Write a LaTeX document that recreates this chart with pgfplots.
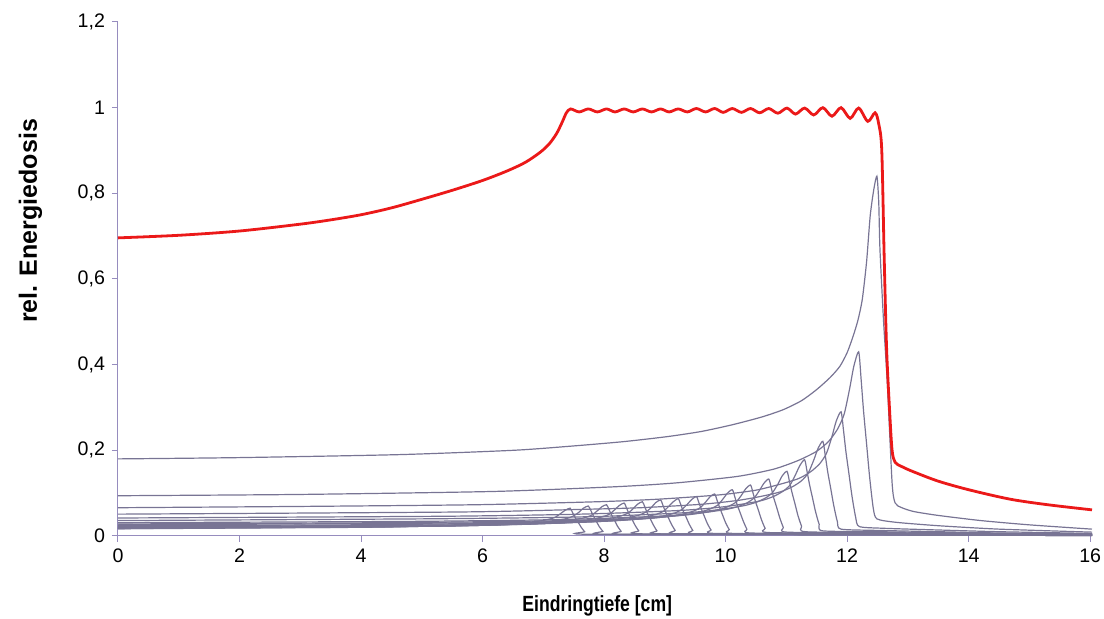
\documentclass[border=0pt]{standalone}
\usepackage{fontspec}
\setmainfont{Liberation Sans}
\usepackage{graphicx}
\usepackage{pgfplots}
\pgfplotsset{compat=1.18}
\definecolor{bragg}{RGB}{120,116,148}
\definecolor{axiscol}{RGB}{150,140,190}
\definecolor{sobp}{RGB}{235,25,25}
\begin{document}
\begin{tikzpicture}
\path[use as bounding box] (-59pt,-41.5pt) rectangle (493pt,268pt);
\begin{axis}[
 at={(0pt,0pt)}, anchor=south west,
 width=487pt, height=257pt, scale only axis,
 xmin=0, xmax=16.03, ymin=0, ymax=1.2,
 axis x line=bottom, axis y line=left,
 axis line style={-, draw=axiscol, line width=0.5pt},
 xtick={0,2,4,6,8,10,12,14,16},
 ytick={0,0.2,0.4,0.6,0.8,1,1.2},
 tick align=outside, major tick length=3pt,
 tick style={draw=axiscol, line width=0.5pt},
 tick label style={font=\fontsize{9.8}{11}\selectfont, text=black},
 /pgf/number format/use comma,
 /pgf/number format/assume math mode=true,
 xlabel={\scalebox{0.8}[1]{Eindringtiefe [cm]}},
 ylabel={rel. Energiedosis},
 xlabel style={font=\bfseries\fontsize{11}{13}\selectfont, at={(axis description cs:0.492,-0.136)}, anchor=center},
 ylabel style={font=\bfseries\fontsize{12.5}{14}\selectfont, at={(axis description cs:-0.09,0.613)}, anchor=center},
 clip=false,
 every axis plot/.append style={smooth, tension=0.4},
]
% individual Bragg curves
\addplot[bragg, line width=0.6pt] coordinates {(0,0.180) (2,0.183) (4.64,0.190) (6.5,0.200) (7.39,0.209) (8.3,0.220) (9.04,0.232) (9.6,0.244) (10.12,0.260) (10.6,0.278) (10.95,0.295) (11.25,0.316) (11.5,0.342) (11.72,0.370) (11.88,0.396) (12.0,0.428) (12.1,0.467) (12.18,0.505) (12.25,0.553) (12.32,0.64) (12.38,0.748) (12.44,0.81) (12.49,0.84) (12.52,0.78) (12.54,0.67) (12.6,0.5) (12.66,0.36) (12.74,0.124) (12.79,0.077) (12.9,0.066) (13.1,0.057) (13.5,0.048) (14.2,0.036) (15,0.026) (16.03,0.016)};
\addplot[bragg, line width=0.6pt] coordinates {(0,0.094) (3,0.097) (6.19,0.104) (8.19,0.115) (9.19,0.124) (10.19,0.139) (10.79,0.156) (11.19,0.176) (11.49,0.197) (11.69,0.220) (11.84,0.249) (11.95,0.284) (12.04,0.343) (12.11,0.396) (12.19,0.430) (12.23,0.366) (12.27,0.292) (12.32,0.215) (12.37,0.138) (12.43,0.065) (12.49,0.040) (12.8,0.032) (13.5,0.024) (14.5,0.016) (16.03,0.009)};
\addplot[bragg, line width=0.6pt] coordinates {(0,0.066) (3,0.069) (5.90,0.073) (7.90,0.080) (8.90,0.086) (9.90,0.096) (10.50,0.107) (10.90,0.121) (11.20,0.134) (11.40,0.150) (11.55,0.169) (11.66,0.193) (11.75,0.232) (11.82,0.268) (11.90,0.290) (11.94,0.247) (11.98,0.197) (12.03,0.145) (12.08,0.093) (12.14,0.044) (12.20,0.022) (12.6,0.018) (13.5,0.014) (14.5,0.010) (16.03,0.006)};
\addplot[bragg, line width=0.6pt] coordinates {(0,0.051) (5.60,0.056) (7.60,0.062) (8.60,0.066) (9.60,0.074) (10.20,0.083) (10.60,0.093) (10.90,0.103) (11.10,0.115) (11.25,0.129) (11.36,0.147) (11.45,0.177) (11.52,0.204) (11.60,0.221) (11.64,0.188) (11.68,0.150) (11.73,0.111) (11.78,0.071) (11.84,0.033) (11.90,0.016) (12.5,0.013) (13.5,0.010) (14.5,0.007) (16.03,0.005)};
\addplot[bragg, line width=0.6pt] coordinates {(0,0.042) (5.30,0.046) (7.30,0.050) (8.30,0.054) (9.30,0.060) (9.90,0.067) (10.30,0.075) (10.60,0.083) (10.80,0.093) (10.95,0.105) (11.06,0.119) (11.15,0.143) (11.22,0.164) (11.30,0.178) (11.34,0.151) (11.38,0.121) (11.43,0.089) (11.48,0.057) (11.54,0.027) (11.60,0.012) (12.5,0.010) (13.5,0.008) (14.5,0.006) (16.03,0.004)};
\addplot[bragg, line width=0.6pt] coordinates {(0,0.036) (5.01,0.040) (7.01,0.043) (8.01,0.046) (9.01,0.052) (9.61,0.057) (10.01,0.064) (10.31,0.071) (10.51,0.079) (10.66,0.089) (10.77,0.101) (10.86,0.121) (10.93,0.140) (11.01,0.151) (11.05,0.128) (11.09,0.103) (11.14,0.076) (11.19,0.048) (11.25,0.023) (11.31,0.010) (12.5,0.008) (14,0.006) (16.03,0.004)};
\addplot[bragg, line width=0.6pt] coordinates {(0,0.031) (4.71,0.034) (6.71,0.037) (7.71,0.040) (8.71,0.045) (9.31,0.050) (9.71,0.056) (10.01,0.062) (10.21,0.069) (10.36,0.078) (10.47,0.089) (10.56,0.107) (10.63,0.123) (10.71,0.133) (10.75,0.113) (10.79,0.090) (10.84,0.067) (10.89,0.043) (10.95,0.020) (11.01,0.009) (12.5,0.007) (14,0.005) (16.03,0.003)};
\addplot[bragg, line width=0.6pt] coordinates {(0,0.028) (4.41,0.031) (6.41,0.034) (7.41,0.036) (8.41,0.040) (9.01,0.045) (9.41,0.050) (9.71,0.056) (9.91,0.062) (10.06,0.070) (10.17,0.079) (10.26,0.095) (10.33,0.110) (10.41,0.119) (10.45,0.101) (10.49,0.081) (10.54,0.060) (10.59,0.038) (10.65,0.018) (10.71,0.008) (12.5,0.006) (14,0.004) (16.03,0.003)};
\addplot[bragg, line width=0.6pt] coordinates {(0,0.026) (4.11,0.029) (6.11,0.031) (7.11,0.033) (8.11,0.037) (8.71,0.041) (9.11,0.046) (9.41,0.051) (9.61,0.057) (9.76,0.064) (9.87,0.072) (9.96,0.087) (10.03,0.100) (10.11,0.108) (10.15,0.092) (10.19,0.073) (10.24,0.054) (10.29,0.035) (10.35,0.016) (10.41,0.007) (12,0.006) (14,0.004) (16.03,0.003)};
\addplot[bragg, line width=0.6pt] coordinates {(0,0.024) (3.82,0.026) (5.82,0.029) (6.82,0.031) (7.82,0.034) (8.42,0.038) (8.82,0.042) (9.12,0.047) (9.32,0.052) (9.47,0.058) (9.58,0.066) (9.67,0.079) (9.74,0.091) (9.82,0.098) (9.86,0.083) (9.90,0.067) (9.95,0.049) (10.00,0.031) (10.06,0.015) (10.12,0.006) (12,0.005) (14,0.004) (16.03,0.002)};
\addplot[bragg, line width=0.6pt] coordinates {(0,0.022) (3.52,0.024) (5.52,0.026) (6.52,0.028) (7.52,0.032) (8.12,0.035) (8.52,0.039) (8.82,0.043) (9.02,0.048) (9.17,0.054) (9.28,0.062) (9.37,0.074) (9.44,0.085) (9.52,0.092) (9.56,0.078) (9.60,0.063) (9.65,0.046) (9.70,0.029) (9.76,0.014) (9.82,0.006) (12,0.005) (14,0.003) (16.03,0.002)};
\addplot[bragg, line width=0.6pt] coordinates {(0,0.021) (3.22,0.023) (5.22,0.025) (6.22,0.027) (7.22,0.030) (7.82,0.033) (8.22,0.037) (8.52,0.041) (8.72,0.046) (8.87,0.051) (8.98,0.058) (9.07,0.070) (9.14,0.080) (9.22,0.087) (9.26,0.074) (9.30,0.059) (9.35,0.044) (9.40,0.028) (9.46,0.013) (9.52,0.005) (12,0.004) (14,0.003) (16.03,0.002)};
\addplot[bragg, line width=0.6pt] coordinates {(0,0.020) (2.93,0.022) (4.93,0.024) (5.93,0.026) (6.93,0.029) (7.53,0.032) (7.93,0.036) (8.23,0.040) (8.43,0.044) (8.58,0.049) (8.69,0.056) (8.78,0.067) (8.85,0.078) (8.93,0.084) (8.97,0.071) (9.01,0.057) (9.06,0.042) (9.11,0.027) (9.17,0.013) (9.23,0.005) (12,0.004) (14,0.003) (16.03,0.002)};
\addplot[bragg, line width=0.6pt] coordinates {(0,0.019) (2.63,0.021) (4.63,0.023) (5.63,0.025) (6.63,0.027) (7.23,0.030) (7.63,0.034) (7.93,0.038) (8.13,0.042) (8.28,0.047) (8.39,0.053) (8.48,0.064) (8.55,0.074) (8.63,0.080) (8.67,0.068) (8.71,0.054) (8.76,0.040) (8.81,0.026) (8.87,0.012) (8.93,0.005) (12,0.004) (14,0.003) (16.03,0.002)};
\addplot[bragg, line width=0.6pt] coordinates {(0,0.018) (2.33,0.020) (4.33,0.022) (5.33,0.023) (6.33,0.026) (6.93,0.029) (7.33,0.033) (7.63,0.036) (7.83,0.040) (7.98,0.045) (8.09,0.051) (8.18,0.062) (8.25,0.071) (8.33,0.077) (8.37,0.065) (8.41,0.052) (8.46,0.039) (8.51,0.025) (8.57,0.012) (8.63,0.005) (12,0.004) (14,0.003) (16.03,0.002)};
\addplot[bragg, line width=0.6pt] coordinates {(0,0.018) (2.04,0.020) (4.04,0.021) (5.04,0.023) (6.04,0.025) (6.64,0.028) (7.04,0.032) (7.34,0.035) (7.54,0.039) (7.69,0.043) (7.80,0.049) (7.89,0.059) (7.96,0.068) (8.04,0.073) (8.08,0.062) (8.12,0.050) (8.17,0.037) (8.22,0.023) (8.28,0.011) (8.34,0.004) (12,0.003) (14,0.002) (16.03,0.001)};
\addplot[bragg, line width=0.6pt] coordinates {(0,0.017) (1.74,0.019) (3.74,0.020) (4.74,0.022) (5.74,0.024) (6.34,0.027) (6.74,0.030) (7.04,0.033) (7.24,0.037) (7.39,0.041) (7.50,0.047) (7.59,0.056) (7.66,0.065) (7.74,0.070) (7.78,0.060) (7.82,0.048) (7.87,0.035) (7.92,0.022) (7.98,0.011) (8.04,0.004) (12,0.003) (14,0.002) (16.03,0.001)};
\addplot[bragg, line width=0.6pt] coordinates {(0,0.017) (1.44,0.018) (3.44,0.020) (4.44,0.021) (5.44,0.024) (6.04,0.026) (6.44,0.029) (6.74,0.032) (6.94,0.035) (7.09,0.039) (7.20,0.044) (7.29,0.053) (7.36,0.060) (7.44,0.065) (7.48,0.055) (7.52,0.044) (7.57,0.033) (7.62,0.021) (7.68,0.010) (7.74,0.004) (12,0.003) (14,0.002) (16.03,0.001)};
% spread-out Bragg peak
\addplot[sobp, line width=1.4pt, tension=0.5] coordinates {(0,0.696) (1,0.702) (2,0.712) (3,0.728) (3.5,0.738) (4,0.750) (4.5,0.766) (5,0.786) (5.5,0.807) (6,0.830) (6.4,0.852) (6.7,0.872) (6.95,0.896) (7.1,0.916) (7.22,0.940) (7.31,0.966) (7.38,0.988) (7.45,0.997) (7.59,0.990) (7.74,0.997) (7.89,0.990) (8.04,0.997) (8.18,0.990) (8.33,0.997) (8.48,0.990) (8.63,0.997) (8.78,0.990) (8.93,0.997) (9.07,0.990) (9.22,0.997) (9.37,0.990) (9.52,0.998) (9.67,0.990) (9.82,0.998) (9.96,0.989) (10.11,0.998) (10.26,0.989) (10.41,0.998) (10.56,0.988) (10.71,0.998) (10.86,0.987) (11.01,0.999) (11.15,0.985) (11.30,0.999) (11.45,0.983) (11.60,1.000) (11.75,0.980) (11.90,1.000) (12.05,0.975) (12.19,0.999) (12.34,0.968) (12.46,0.988) (12.52,0.962) (12.57,0.90) (12.61,0.65) (12.65,0.436) (12.70,0.29) (12.74,0.2) (12.79,0.172) (12.9,0.162) (13.09,0.150) (13.5,0.128) (14.0,0.108) (14.68,0.086) (15.3,0.073) (16.03,0.061)};
\end{axis}
\end{tikzpicture}
\end{document}
